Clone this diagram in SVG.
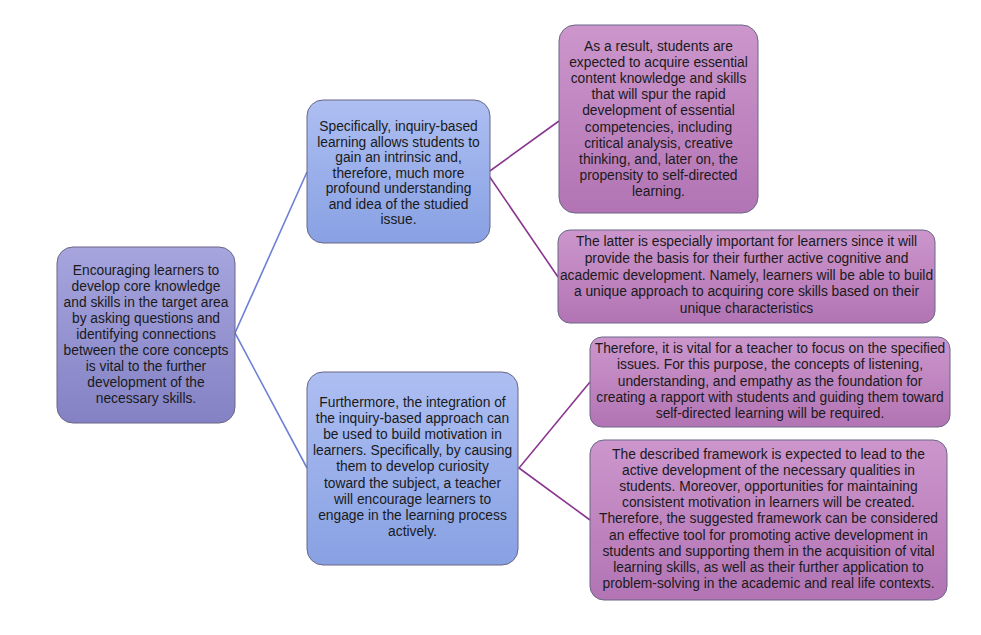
<svg xmlns="http://www.w3.org/2000/svg" width="981" height="635" viewBox="0 0 981 635">
<defs>
<linearGradient id="gL" x1="0" y1="0" x2="0" y2="1"><stop offset="0" stop-color="#a6a5de"/><stop offset="1" stop-color="#8482c4"/></linearGradient>
<linearGradient id="gB" x1="0" y1="0" x2="0" y2="1"><stop offset="0" stop-color="#adbef2"/><stop offset="1" stop-color="#88a1e3"/></linearGradient>
<linearGradient id="gP" x1="0" y1="0" x2="0" y2="1"><stop offset="0" stop-color="#cc96cc"/><stop offset="1" stop-color="#b274b4"/></linearGradient>
</defs>
<style>
.box{stroke:#6a6686;stroke-width:1}
.t{font-family:"Liberation Sans",Arial,sans-serif;font-size:13.8px;fill:#1a1a1a;text-anchor:middle}
.cb{stroke:#6d80d6;stroke-width:1.6;fill:none}
.cp{stroke:#8a3590;stroke-width:1.6;fill:none}
</style>
<rect width="981" height="635" fill="#ffffff"/>
<g id="connectors">
<path class="cb" d="M307,172 L235,333 L307,468"/>
<path class="cp" d="M559,121 L487,173 L558,277"/>
<path class="cp" d="M590,382 L519,468 L590,520"/>
</g>
<g id="node-root">
<rect class="box" x="57" y="247" width="178" height="176" rx="16" fill="url(#gL)"/>
<text class="t" y="275"><tspan x="146">Encouraging learners to</tspan><tspan x="146" dy="16">develop core knowledge</tspan><tspan x="146" dy="16">and skills in the target area</tspan><tspan x="146" dy="16">by asking questions and</tspan><tspan x="146" dy="16">identifying connections</tspan><tspan x="146" dy="16">between the core concepts</tspan><tspan x="146" dy="16">is vital to the further</tspan><tspan x="146" dy="16">development of the</tspan><tspan x="146" dy="16">necessary skills.</tspan></text>
</g>
<g id="node-mid1">
<rect class="box" x="307" y="100" width="183" height="143" rx="16" fill="url(#gB)"/>
<text class="t" y="131"><tspan x="398.5">Specifically, inquiry-based</tspan><tspan x="398.5" dy="15.5">learning allows students to</tspan><tspan x="398.5" dy="15.5">gain an intrinsic and,</tspan><tspan x="398.5" dy="15.5">therefore, much more</tspan><tspan x="398.5" dy="15.5">profound understanding</tspan><tspan x="398.5" dy="15.5">and idea of the studied</tspan><tspan x="398.5" dy="15.5">issue.</tspan></text>
</g>
<g id="node-mid2">
<rect class="box" x="307" y="372" width="211" height="193" rx="16" fill="url(#gB)"/>
<text class="t" y="407"><tspan x="412.5">Furthermore, the integration of</tspan><tspan x="412.5" dy="16.1">the inquiry-based approach can</tspan><tspan x="412.5" dy="16.1">be used to build motivation in</tspan><tspan x="412.5" dy="16.1">learners. Specifically, by causing</tspan><tspan x="412.5" dy="16.1">them to develop curiosity</tspan><tspan x="412.5" dy="16.1">toward the subject, a teacher</tspan><tspan x="412.5" dy="16.1">will encourage learners to</tspan><tspan x="412.5" dy="16.1">engage in the learning process</tspan><tspan x="412.5" dy="16.1">actively.</tspan></text>
</g>
<g id="node-r1">
<rect class="box" x="559" y="25" width="199" height="188" rx="16" fill="url(#gP)"/>
<text class="t" y="51"><tspan x="658.5">As a result, students are</tspan><tspan x="658.5" dy="16.1">expected to acquire essential</tspan><tspan x="658.5" dy="16.1">content knowledge and skills</tspan><tspan x="658.5" dy="16.1">that will spur the rapid</tspan><tspan x="658.5" dy="16.1">development of essential</tspan><tspan x="658.5" dy="16.1">competencies, including</tspan><tspan x="658.5" dy="16.1">critical analysis, creative</tspan><tspan x="658.5" dy="16.1">thinking, and, later on, the</tspan><tspan x="658.5" dy="16.1">propensity to self-directed</tspan><tspan x="658.5" dy="16.1">learning.</tspan></text>
</g>
<g id="node-r2">
<rect class="box" x="558" y="230" width="377" height="93" rx="12" fill="url(#gP)"/>
<text class="t" y="246"><tspan x="746.5">The latter is especially important for learners since it will</tspan><tspan x="746.5" dy="16.75">provide the basis for their further active cognitive and</tspan><tspan x="746.5" dy="16.75">academic development. Namely, learners will be able to build</tspan><tspan x="746.5" dy="16.75">a unique approach to acquiring core skills based on their</tspan><tspan x="746.5" dy="16.75">unique characteristics</tspan></text>
</g>
<g id="node-r3">
<rect class="box" x="590" y="337" width="360" height="90" rx="12" fill="url(#gP)"/>
<text class="t" y="353"><tspan x="770">Therefore, it is vital for a teacher to focus on the specified</tspan><tspan x="770" dy="16.25">issues. For this purpose, the concepts of listening,</tspan><tspan x="770" dy="16.25">understanding, and empathy as the foundation for</tspan><tspan x="770" dy="16.25">creating a rapport with students and guiding them toward</tspan><tspan x="770" dy="16.25">self-directed learning will be required.</tspan></text>
</g>
<g id="node-r4">
<rect class="box" x="590" y="440" width="357" height="160" rx="14" fill="url(#gP)"/>
<text class="t" y="459"><tspan x="768.5">The described framework is expected to lead to the</tspan><tspan x="768.5" dy="16.1">active development of the necessary qualities in</tspan><tspan x="768.5" dy="16.1">students. Moreover, opportunities for maintaining</tspan><tspan x="768.5" dy="16.1">consistent motivation in learners will be created.</tspan><tspan x="768.5" dy="16.1">Therefore, the suggested framework can be considered</tspan><tspan x="768.5" dy="16.1">an effective tool for promoting active development in</tspan><tspan x="768.5" dy="16.1">students and supporting them in the acquisition of vital</tspan><tspan x="768.5" dy="16.1">learning skills, as well as their further application to</tspan><tspan x="768.5" dy="16.1">problem-solving in the academic and real life contexts.</tspan></text>
</g>
</svg>
